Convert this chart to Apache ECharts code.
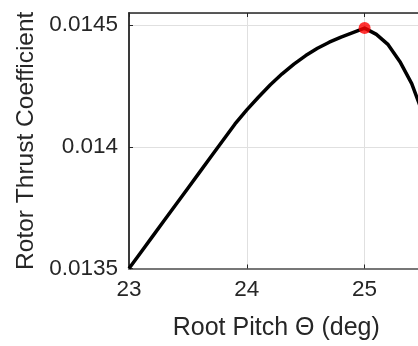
<!DOCTYPE html>
<html lang="en">
<head>
    <meta charset="UTF-8">
    <title>Rotor Thrust Coefficient vs Root Pitch</title>
    <script src="https://cdn.jsdelivr.net/npm/echarts@6/dist/echarts.min.js"></script>
</head>
<body style="margin:0;background:#fff">
<div id="main" style="width:418px;height:346px"></div>
<script type="text/javascript">
    // root pitch (deg) and thrust coefficient
    var pitch = [23.0, 23.1, 23.2, 23.3, 23.4, 23.5, 23.6, 23.7, 23.8, 23.9,
                 24.0, 24.1, 24.2, 24.3, 24.4, 24.5, 24.6, 24.7, 24.8, 24.9,
                 25.0, 25.1, 25.2, 25.3, 25.4, 25.5];
    var thrust = [0.013500, 0.013566, 0.013632, 0.013698, 0.013764, 0.013830, 0.013896, 0.013962, 0.014028, 0.014094,
                  0.014152, 0.014205, 0.014255, 0.014300, 0.014340, 0.014375, 0.014405, 0.014430, 0.014451, 0.014469,
                  0.014488, 0.014462, 0.014420, 0.014350, 0.014260, 0.014130];
    // optimum point (red marker)
    var bestPitch = [25.0];
    var bestThrust = [0.014488];

    var axisColor = '#262626';
    var font = 'Liberation Sans';

    var lineData = pitch.map(function (p, i) { return [p, thrust[i]]; });
    var bestData = bestPitch.map(function (p, i) { return [p, bestThrust[i]]; });

    var myChart = echarts.init(document.getElementById('main'));

    myChart.setOption({
        animation: false,
        grid: {
            left: 129,
            top: 13,
            width: 294.5,
            height: 255.5,
            outerBoundsMode: 'none'
        },
        xAxis: [{
            type: 'value',
            min: 23,
            max: 25.5,
            interval: 1,
            name: 'Root Pitch \u0398 (deg)',
            nameLocation: 'middle',
            nameGap: 47,
            nameTextStyle: { color: axisColor, fontFamily: font, fontSize: 25 },
            axisLine: { show: true, onZero: false, lineStyle: { color: '#777', width: 2 } },
            axisTick: { show: true, inside: true, length: 4, lineStyle: { color: axisColor } },
            axisLabel: { margin: 10, color: axisColor, fontFamily: font, fontSize: 22.5, showMaxLabel: false },
            splitLine: { show: true, lineStyle: { color: '#e0e0e0', width: 1 } }
        }, {
            type: 'value',
            position: 'top',
            min: 23,
            max: 25.5,
            interval: 1,
            axisLine: { show: true, onZero: false, lineStyle: { color: axisColor, width: 1.5 } },
            axisTick: { show: true, inside: true, length: 4, lineStyle: { color: axisColor } },
            axisLabel: { show: false },
            splitLine: { show: false }
        }],
        yAxis: {
            type: 'value',
            min: 0.0135,
            max: 0.01455,
            interval: 0.0005,
            name: 'Rotor Thrust Coefficient',
            nameLocation: 'middle',
            nameRotate: 90,
            nameGap: 88,
            nameTextStyle: { color: axisColor, fontFamily: font, fontSize: 24.5 },
            axisLine: { show: true, onZero: false, lineStyle: { color: '#3a3a3a', width: 2 } },
            axisTick: { show: true, inside: true, length: 4, lineStyle: { color: axisColor } },
            axisLabel: {
                margin: 11,
                color: axisColor,
                fontFamily: font,
                fontSize: 22.5,
                showMaxLabel: false,
                formatter: function (v) { return String(+v.toFixed(4)); }
            },
            splitLine: { show: true, lineStyle: { color: '#e0e0e0', width: 1 } }
        },
        series: [{
            type: 'line',
            data: lineData,
            showSymbol: false,
            smooth: false,
            lineStyle: { color: '#000', width: 3.5, join: 'round' },
            z: 3
        }, {
            type: 'scatter',
            data: bestData,
            symbolSize: 12,
            itemStyle: { color: '#ff0000' },
            z: 4
        }]
    });
</script>
</body>
</html>
